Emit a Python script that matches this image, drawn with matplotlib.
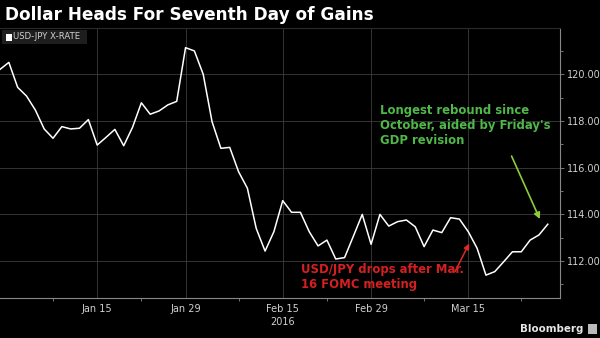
import matplotlib
matplotlib.use('Agg')
import numpy as np
import pandas as pd
import matplotlib.pyplot as plt

# business days shown on the chart (Dec 31 2015 .. Mar 28 2016)
dates = pd.bdate_range('2015-12-31', '2016-03-28')
usdjpy = [
    120.21, 120.51, 119.44, 119.07, 118.47, 117.66, 117.26, 117.76, 117.66, 117.69,
    118.06, 116.97, 117.30, 117.64, 116.94, 117.73, 118.78, 118.29, 118.43, 118.69,
    118.84, 121.14, 121.00, 120.00, 117.97, 116.83, 116.87, 115.83, 115.12, 113.40,
    112.43, 113.26, 114.59, 114.09, 114.09, 113.26, 112.65, 112.90, 112.09, 112.15,
    113.07, 114.00, 112.72, 114.00, 113.50, 113.69, 113.76, 113.47, 112.62, 113.33,
    113.22, 113.86, 113.80, 113.26, 112.55, 111.40, 111.55, 111.97, 112.40, 112.40,
    112.90, 113.12, 113.58,
]
major_dates = ['2016-01-15', '2016-01-29', '2016-02-15', '2016-02-29', '2016-03-15']
major_labels = ['Jan 15', 'Jan 29', 'Feb 15\n2016', 'Feb 29', 'Mar 15']
minor_dates = ['2016-01-08', '2016-01-22', '2016-02-08', '2016-02-22', '2016-03-08', '2016-03-23']
y_major = [112, 114, 116, 118, 120]
y_minor = [111, 113, 115, 117, 119, 121]

bg = '#000000'
grid_col = '#3c3c3c'
txt_col = '#d0d0d0'

pos = {d.strftime('%Y-%m-%d'): i for i, d in enumerate(dates)}
x = np.arange(len(dates))

fig = plt.figure(figsize=(6.0, 3.38), dpi=100, facecolor=bg)
ax = fig.add_axes([0.0, 0.1183, 0.9333, 0.7987])
ax.set_facecolor(bg)

ax.plot(x, usdjpy, color='white', lw=1.1, zorder=3)

ax.set_xlim(0, 63.38)
ax.set_ylim(110.42, 121.98)

ax.set_xticks([pos[d] for d in major_dates])
ax.set_xticklabels(major_labels, fontsize=7, color=txt_col, linespacing=1.45)
ax.set_xticks([pos[d] for d in minor_dates], minor=True)
ax.set_yticks(y_major)
ax.set_yticklabels(['%.2f' % v for v in y_major], fontsize=7, color=txt_col)
ax.set_yticks(y_minor, minor=True)
ax.yaxis.tick_right()

ax.tick_params(axis='both', which='both', colors='#888888', length=3, width=0.6,
               labelcolor=txt_col)
ax.tick_params(axis='x', which='major', length=0, pad=4)
ax.tick_params(axis='x', which='minor', length=2)
ax.tick_params(axis='y', which='major', pad=2)
ax.tick_params(axis='y', which='minor', length=2)

ax.grid(True, which='major', color=grid_col, lw=0.6)
ax.spines['left'].set_visible(False)
ax.spines['top'].set_color('#2a2a2a')
ax.spines['right'].set_color('#888888')
ax.spines['bottom'].set_color('#888888')
for s in ['right', 'bottom']:
    ax.spines[s].set_linewidth(0.8)

# legend box
fig.patches.append(plt.Rectangle((0.003, 1 - 43.5 / 338), 85 / 600, 14 / 338,
                                 transform=fig.transFigure, facecolor='#1e1e1e',
                                 edgecolor='none', zorder=5))
fig.patches.append(plt.Rectangle((6 / 600, 1 - 40.5 / 338), 5.5 / 600, 6.5 / 338,
                                 transform=fig.transFigure, facecolor='white',
                                 edgecolor='none', zorder=6))
fig.text(13 / 600, 1 - 36.8 / 338, 'USD-JPY X-RATE', fontsize=6.1, color=txt_col,
         va='center', ha='left', zorder=7)

fig.text(5 / 600, 1 - 15 / 338, 'Dollar Heads For Seventh Day of Gains',
         fontsize=12.2, fontweight='bold', color='white', va='center', ha='left')

# annotations
green_txt = '#4fb848'
ax.text(380 / 560 * 63.38, 121.98 - (104 - 28) / 23.35,
        "Longest rebound since\nOctober, aided by Friday's\nGDP revision",
        fontsize=8.4, fontweight='bold', color=green_txt, va='top', ha='left',
        linespacing=1.2)
ax.annotate('', xy=(61.1, 113.8), xytext=(57.9, 116.5),
            arrowprops=dict(arrowstyle='-|>', color='#8ccc3c', lw=1.2,
                            mutation_scale=9, shrinkA=0, shrinkB=0))

red_txt = '#d42020'
ax.text(34.1, 111.92,
        'USD/JPY drops after Mar.\n16 FOMC meeting',
        fontsize=8.4, fontweight='bold', color=red_txt, va='top', ha='left',
        linespacing=1.2, zorder=4)
ax.annotate('', xy=(53.1, 112.75), xytext=(51.5, 111.55),
            arrowprops=dict(arrowstyle='-|>', color='#e02828', lw=1.1,
                            mutation_scale=8, shrinkA=0, shrinkB=0))

fig.text(583 / 600, 1 - 329 / 338, 'Bloomberg', fontsize=7.4, fontweight='bold',
         color='#e6e6e6', va='center', ha='right')
fig.patches.append(plt.Rectangle((588 / 600, 1 - 334 / 338), 9 / 600, 10 / 338,
                                 transform=fig.transFigure, facecolor='#bbbbbb',
                                 edgecolor='none'))

fig.savefig('out.png', dpi=100, facecolor=bg)
